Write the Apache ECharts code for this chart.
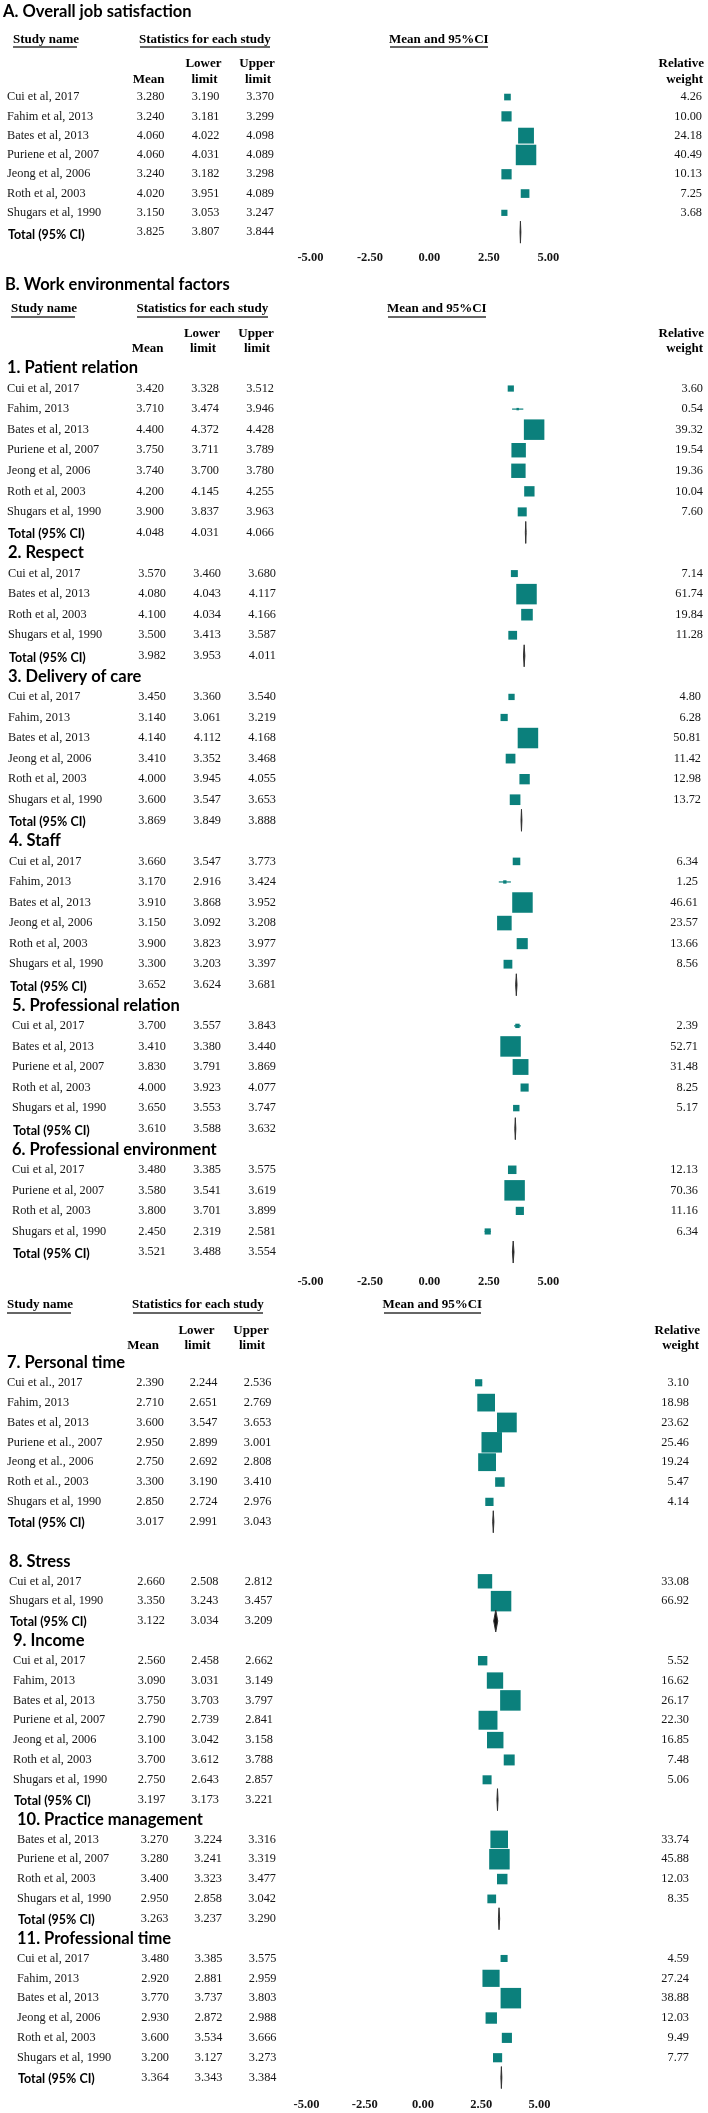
<!DOCTYPE html>
<html><head><meta charset="utf-8">
<script src="https://cdn.jsdelivr.net/npm/echarts@6/dist/echarts.min.js"></script>
<style>html,body{margin:0;padding:0;background:#fff}#c{width:708px;height:2113px}</style>
</head><body><div id="c"></div>
<script>
// ================= DATA =================
const tickValues = [-5, -2.5, 0, 2.5, 5];
const tickLabels = ['-5.00', '-2.50', '0.00', '2.50', '5.00'];

const titleA = 'A. Overall job satisfaction';
const titleB = 'B. Work environmental factors';

// A. Overall job satisfaction
const A_names  = ['Cui et al, 2017','Fahim et al, 2013','Bates et al, 2013','Puriene et al, 2007','Jeong et al, 2006','Roth et al, 2003','Shugars et al, 1990'];
const A_mean   = [3.280, 3.240, 4.060, 4.060, 3.240, 4.020, 3.150];
const A_lower  = [3.190, 3.181, 4.022, 4.031, 3.182, 3.951, 3.053];
const A_upper  = [3.370, 3.299, 4.098, 4.089, 3.298, 4.089, 3.247];
const A_weight = [4.26, 10.00, 24.18, 40.49, 10.13, 7.25, 3.68];
const A_total  = [3.825, 3.807, 3.844];

// 1. Patient relation
const S1_title  = '1. Patient relation';
const S1_names  = ['Cui et al, 2017','Fahim, 2013','Bates et al, 2013','Puriene et al, 2007','Jeong et al, 2006','Roth et al, 2003','Shugars et al, 1990'];
const S1_mean   = [3.420, 3.710, 4.400, 3.750, 3.740, 4.200, 3.900];
const S1_lower  = [3.328, 3.474, 4.372, 3.711, 3.700, 4.145, 3.837];
const S1_upper  = [3.512, 3.946, 4.428, 3.789, 3.780, 4.255, 3.963];
const S1_weight = [3.60, 0.54, 39.32, 19.54, 19.36, 10.04, 7.60];
const S1_total  = [4.048, 4.031, 4.066];

// 2. Respect
const S2_title  = '2. Respect';
const S2_names  = ['Cui et al, 2017','Bates et al, 2013','Roth et al, 2003','Shugars et al, 1990'];
const S2_mean   = [3.570, 4.080, 4.100, 3.500];
const S2_lower  = [3.460, 4.043, 4.034, 3.413];
const S2_upper  = [3.680, 4.117, 4.166, 3.587];
const S2_weight = [7.14, 61.74, 19.84, 11.28];
const S2_total  = [3.982, 3.953, 4.011];

// 3. Delivery of care
const S3_title  = '3. Delivery of care';
const S3_names  = ['Cui et al, 2017','Fahim, 2013','Bates et al, 2013','Jeong et al, 2006','Roth et al, 2003','Shugars et al, 1990'];
const S3_mean   = [3.450, 3.140, 4.140, 3.410, 4.000, 3.600];
const S3_lower  = [3.360, 3.061, 4.112, 3.352, 3.945, 3.547];
const S3_upper  = [3.540, 3.219, 4.168, 3.468, 4.055, 3.653];
const S3_weight = [4.80, 6.28, 50.81, 11.42, 12.98, 13.72];
const S3_total  = [3.869, 3.849, 3.888];

// 4. Staff
const S4_title  = '4. Staff';
const S4_names  = ['Cui et al, 2017','Fahim, 2013','Bates et al, 2013','Jeong et al, 2006','Roth et al, 2003','Shugars et al, 1990'];
const S4_mean   = [3.660, 3.170, 3.910, 3.150, 3.900, 3.300];
const S4_lower  = [3.547, 2.916, 3.868, 3.092, 3.823, 3.203];
const S4_upper  = [3.773, 3.424, 3.952, 3.208, 3.977, 3.397];
const S4_weight = [6.34, 1.25, 46.61, 23.57, 13.66, 8.56];
const S4_total  = [3.652, 3.624, 3.681];

// 5. Professional relation
const S5_title  = '5. Professional relation';
const S5_names  = ['Cui et al, 2017','Bates et al, 2013','Puriene et al, 2007','Roth et al, 2003','Shugars et al, 1990'];
const S5_mean   = [3.700, 3.410, 3.830, 4.000, 3.650];
const S5_lower  = [3.557, 3.380, 3.791, 3.923, 3.553];
const S5_upper  = [3.843, 3.440, 3.869, 4.077, 3.747];
const S5_weight = [2.39, 52.71, 31.48, 8.25, 5.17];
const S5_total  = [3.610, 3.588, 3.632];

// 6. Professional environment
const S6_title  = '6. Professional environment';
const S6_names  = ['Cui et al, 2017','Puriene et al, 2007','Roth et al, 2003','Shugars et al, 1990'];
const S6_mean   = [3.480, 3.580, 3.800, 2.450];
const S6_lower  = [3.385, 3.541, 3.701, 2.319];
const S6_upper  = [3.575, 3.619, 3.899, 2.581];
const S6_weight = [12.13, 70.36, 11.16, 6.34];
const S6_total  = [3.521, 3.488, 3.554];

// 7. Personal time
const S7_title  = '7. Personal time';
const S7_names  = ['Cui et al., 2017','Fahim, 2013','Bates et al, 2013','Puriene et al., 2007','Jeong et al., 2006','Roth et al., 2003','Shugars et al, 1990'];
const S7_mean   = [2.390, 2.710, 3.600, 2.950, 2.750, 3.300, 2.850];
const S7_lower  = [2.244, 2.651, 3.547, 2.899, 2.692, 3.190, 2.724];
const S7_upper  = [2.536, 2.769, 3.653, 3.001, 2.808, 3.410, 2.976];
const S7_weight = [3.10, 18.98, 23.62, 25.46, 19.24, 5.47, 4.14];
const S7_total  = [3.017, 2.991, 3.043];

// 8. Stress
const S8_title  = '8. Stress';
const S8_names  = ['Cui et al, 2017','Shugars et al, 1990'];
const S8_mean   = [2.660, 3.350];
const S8_lower  = [2.508, 3.243];
const S8_upper  = [2.812, 3.457];
const S8_weight = [33.08, 66.92];
const S8_total  = [3.122, 3.034, 3.209];

// 9. Income
const S9_title  = '9. Income';
const S9_names  = ['Cui et al, 2017','Fahim, 2013','Bates et al, 2013','Puriene et al, 2007','Jeong et al, 2006','Roth et al, 2003','Shugars et al, 1990'];
const S9_mean   = [2.560, 3.090, 3.750, 2.790, 3.100, 3.700, 2.750];
const S9_lower  = [2.458, 3.031, 3.703, 2.739, 3.042, 3.612, 2.643];
const S9_upper  = [2.662, 3.149, 3.797, 2.841, 3.158, 3.788, 2.857];
const S9_weight = [5.52, 16.62, 26.17, 22.30, 16.85, 7.48, 5.06];
const S9_total  = [3.197, 3.173, 3.221];

// 10. Practice management
const S10_title  = '10. Practice management';
const S10_names  = ['Bates et al, 2013','Puriene et al, 2007','Roth et al, 2003','Shugars et al, 1990'];
const S10_mean   = [3.270, 3.280, 3.400, 2.950];
const S10_lower  = [3.224, 3.241, 3.323, 2.858];
const S10_upper  = [3.316, 3.319, 3.477, 3.042];
const S10_weight = [33.74, 45.88, 12.03, 8.35];
const S10_total  = [3.263, 3.237, 3.290];

// 11. Professional time
const S11_title  = '11. Professional time';
const S11_names  = ['Cui et al, 2017','Fahim, 2013','Bates et al, 2013','Jeong et al, 2006','Roth et al, 2003','Shugars et al, 1990'];
const S11_mean   = [3.480, 2.920, 3.770, 2.930, 3.600, 3.200];
const S11_lower  = [3.385, 2.881, 3.737, 2.872, 3.534, 3.127];
const S11_upper  = [3.575, 2.959, 3.803, 2.988, 3.666, 3.273];
const S11_weight = [4.59, 27.24, 38.88, 12.03, 9.49, 7.77];
const S11_total  = [3.364, 3.343, 3.384];

const totalLabel = 'Total (95% CI)';
const headStudy = 'Study name', headStats = 'Statistics for each study', headPlot = 'Mean and 95%CI';
const headMean = 'Mean', headLower = ['Lower', 'limit'], headUpper = ['Upper', 'limit'], headWeight = ['Relative', 'weight'];

// ================= STRUCTURE =================
function sec(title, names, mean, lower, upper, weight, total) {
  return { title, names, mean, lower, upper, weight, total };
}
const panelSections = [
  [sec(null, A_names, A_mean, A_lower, A_upper, A_weight, A_total)],
  [sec(S1_title, S1_names, S1_mean, S1_lower, S1_upper, S1_weight, S1_total),
   sec(S2_title, S2_names, S2_mean, S2_lower, S2_upper, S2_weight, S2_total),
   sec(S3_title, S3_names, S3_mean, S3_lower, S3_upper, S3_weight, S3_total),
   sec(S4_title, S4_names, S4_mean, S4_lower, S4_upper, S4_weight, S4_total),
   sec(S5_title, S5_names, S5_mean, S5_lower, S5_upper, S5_weight, S5_total),
   sec(S6_title, S6_names, S6_mean, S6_lower, S6_upper, S6_weight, S6_total)],
  [sec(S7_title, S7_names, S7_mean, S7_lower, S7_upper, S7_weight, S7_total),
   sec(S8_title, S8_names, S8_mean, S8_lower, S8_upper, S8_weight, S8_total),
   sec(S9_title, S9_names, S9_mean, S9_lower, S9_upper, S9_weight, S9_total),
   sec(S10_title, S10_names, S10_mean, S10_lower, S10_upper, S10_weight, S10_total),
   sec(S11_title, S11_names, S11_mean, S11_lower, S11_upper, S11_weight, S11_total)]
];

// ================= LAYOUT / STYLE =================
const TEAL = '#0b807c';
const INK = '#151515';
const SERIF = '"Liberation Serif","Times New Roman",serif';
const SANS = 'Lato, "Open Sans", sans-serif';
const F_ROW = '12.3px ' + SERIF;
const F_HEAD = 'bold 13px ' + SERIF;
const F_SEC = 'bold 16.5px ' + SANS;
const F_TOTAL = 'bold 12.5px ' + SANS;
const MAX_BOX = 20.5;
const DIAMOND_H = 22;

const LAYOUT = [
  { grid: { left: 310.4, width: 238, top: 87.4, height: 154.4 }, labelMargin: 9.5,
    cols: { name: 7, mean: 164.5, lower: 219.5, upper: 274, weight: 702 },
    dxName: [0], dxNum: [0], dxW: [0], blankAfter: [], totalDy: 3 },
  { grid: { left: 310.4, width: 238, top: 357.7, height: 904.6 }, labelMargin: 13,
    cols: { name: 7, mean: 164, lower: 219, upper: 274, weight: 703 },
    dxName: [0, 1, 1, 2, 5, 5], dxNum: [0, 2, 2, 2, 2, 2], dxW: [0, 0, -2, -5, -5, -5], blankAfter: [], totalDy: 2 },
  { grid: { left: 306.5, width: 233, top: 1353, height: 734.5 }, labelMargin: 11,
    cols: { name: 7, mean: 164, lower: 217.5, upper: 271.5, weight: 689 },
    dxName: [0, 2, 6, 10, 10], dxNum: [0, 1, 1.5, 4.5, 5], dxW: [0, 0, 0, 0, 0], blankAfter: [0], totalDy: 1 }
];

// header blocks (static text)
const HEADERS = [
  { title: titleA, titleX: 3, titleY: 12, y0: 40, uy: 47, y1: 64, y2: 80,
    study: 13, stats: 139, plot: 389, ul: [[13, 77], [140, 270], [390, 488]],
    mean: 164.5, lower: 203.5, upper: 257, weight: 704 },
  { title: titleB, titleX: 5, titleY: 285, y0: 309, uy: 317, y1: 334, y2: 349,
    study: 11, stats: 136.5, plot: 387, ul: [[11, 75], [137, 268], [388, 486]],
    mean: 163.5, lower: 202, upper: 256, weight: 704 },
  { title: null, y0: 1305, uy: 1313, y1: 1331, y2: 1346,
    study: 7, stats: 132, plot: 382.5, ul: [[7, 71], [133, 263], [384, 481]],
    mean: 159, lower: 196.5, upper: 251, weight: 700 }
];

// ================= BUILD =================
function buildLines(sections, L) {
  const lines = [];
  sections.forEach((s, si) => {
    if (s.title) lines.push({ kind: 'section', text: s.title, si });
    const wmax = Math.max.apply(null, s.weight);
    s.names.forEach((n, k) => lines.push({ kind: 'study', si, name: n, mean: s.mean[k], lower: s.lower[k], upper: s.upper[k], weight: s.weight[k], wmax }));
    lines.push({ kind: 'total', si, mean: s.total[0], lower: s.total[1], upper: s.total[2] });
    if (L.blankAfter.indexOf(si) >= 0) lines.push({ kind: 'blank', si });
  });
  return lines;
}

function txt(x, y, s, font, align, fill) {
  return { type: 'text', x: x, y: y, silent: true,
    style: { text: s, font: font, fill: fill || INK, textAlign: align, textVerticalAlign: 'middle' } };
}

function makeRender(lines, L) {
  return function (params, api) {
    const i = params.dataIndex;
    const ln = lines[i];
    const y = api.coord([0, i])[1];
    const kids = [];
    if (ln.kind === 'section') {
      kids.push(txt(L.cols.name + L.dxName[ln.si], y, ln.text, F_SEC, 'left', '#000'));
    } else if (ln.kind === 'study' || ln.kind === 'total') {
      const dn = L.dxNum[ln.si];
      if (ln.kind === 'study') {
        kids.push(txt(L.cols.name + L.dxName[ln.si], y, ln.name, F_ROW, 'left'));
        kids.push(txt(L.cols.weight + L.dxW[ln.si], y, ln.weight.toFixed(2), F_ROW, 'right'));
      } else {
        kids.push(txt(L.cols.name + L.dxName[ln.si] + 1, y + L.totalDy, totalLabel, F_TOTAL, 'left', '#000'));
      }
      kids.push(txt(L.cols.mean + dn, y, ln.mean.toFixed(3), F_ROW, 'right'));
      kids.push(txt(L.cols.lower + dn, y, ln.lower.toFixed(3), F_ROW, 'right'));
      kids.push(txt(L.cols.upper + dn, y, ln.upper.toFixed(3), F_ROW, 'right'));
      const pl = api.coord([ln.lower, i]), pm = api.coord([ln.mean, i]), pu = api.coord([ln.upper, i]);
      if (ln.kind === 'study') {
        kids.push({ type: 'line', shape: { x1: pl[0], y1: y, x2: pu[0], y2: y }, style: { stroke: TEAL, lineWidth: 1.2 } });
        const sz = MAX_BOX * Math.sqrt(ln.weight / ln.wmax);
        kids.push({ type: 'rect', shape: { x: pm[0] - sz / 2, y: y - sz / 2, width: sz, height: sz }, style: { fill: TEAL } });
      } else {
        const h = DIAMOND_H / 2;
        kids.push({ type: 'polygon', shape: { points: [[pl[0], y], [pm[0], y - h], [pu[0], y], [pm[0], y + h]] },
          style: { fill: '#111', stroke: '#333', lineWidth: 1 } });
      }
    }
    return { type: 'group', children: kids };
  };
}

const grids = [], xAxes = [], yAxes = [], series = [];
panelSections.forEach((sections, k) => {
  const L = LAYOUT[k];
  const lines = buildLines(sections, L);
  grids.push(Object.assign({ outerBoundsMode: 'none', containLabel: false }, L.grid));
  xAxes.push({
    gridIndex: k, type: 'value', min: tickValues[0], max: tickValues[tickValues.length - 1],
    interval: tickValues[1] - tickValues[0],
    axisLine: { show: false }, axisTick: { show: false }, splitLine: { show: false },
    axisLabel: { margin: L.labelMargin, showMinLabel: true, showMaxLabel: true,
      formatter: function (v) { const j = tickValues.indexOf(v); return j >= 0 ? tickLabels[j] : ''; },
      fontFamily: SERIF, fontWeight: 'bold', fontSize: 12.5, color: INK }
  });
  yAxes.push({ gridIndex: k, type: 'category', inverse: true, show: false,
    data: lines.map((_, i) => String(i)), axisLine: { show: false }, axisTick: { show: false }, axisLabel: { show: false } });
  series.push({
    type: 'custom', xAxisIndex: k, yAxisIndex: k, clip: false, silent: true,
    data: lines.map((ln, i) => [ln.mean != null ? ln.mean : 0, i]),
    renderItem: makeRender(lines, L), animation: false
  });
});

// static header graphics
const graphics = [];
function gtxt(x, y, s, font, align) {
  return { type: 'text', x: x, y: y, silent: true,
    style: { text: s, font: font, fill: '#000', textAlign: align, textVerticalAlign: 'middle' } };
}
HEADERS.forEach(H => {
  if (H.title) graphics.push(gtxt(H.titleX, H.titleY, H.title, F_SEC, 'left'));
  graphics.push(gtxt(H.study, H.y0, headStudy, F_HEAD, 'left'));
  graphics.push(gtxt(H.stats, H.y0, headStats, F_HEAD, 'left'));
  graphics.push(gtxt(H.plot, H.y0, headPlot, F_HEAD, 'left'));
  H.ul.forEach(u => graphics.push({ type: 'line', silent: true, shape: { x1: u[0], y1: H.uy, x2: u[1], y2: H.uy }, style: { stroke: '#333', lineWidth: 1.3 } }));
  graphics.push(gtxt(H.mean, H.y2, headMean, F_HEAD, 'right'));
  graphics.push(gtxt(H.lower, H.y1, headLower[0], F_HEAD, 'center'));
  graphics.push(gtxt(H.lower + 1, H.y2, headLower[1], F_HEAD, 'center'));
  graphics.push(gtxt(H.upper, H.y1, headUpper[0], F_HEAD, 'center'));
  graphics.push(gtxt(H.upper + 1, H.y2, headUpper[1], F_HEAD, 'center'));
  graphics.push(gtxt(H.weight, H.y1, headWeight[0], F_HEAD, 'right'));
  graphics.push(gtxt(H.weight - 1, H.y2, headWeight[1], F_HEAD, 'right'));
});

const chart = echarts.init(document.getElementById('c'), null, { renderer: 'canvas', width: 708, height: 2113 });
chart.setOption({
  animation: false,
  backgroundColor: '#ffffff',
  grid: grids,
  xAxis: xAxes,
  yAxis: yAxes,
  series: series,
  graphic: { elements: graphics }
});
</script>
</body></html>
